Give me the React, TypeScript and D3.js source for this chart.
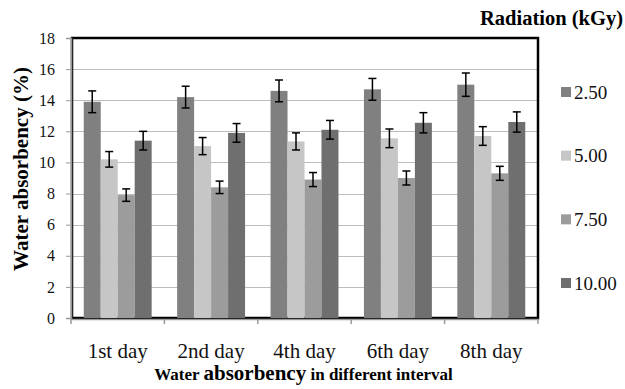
import React, { useRef, useEffect } from 'react';
import * as d3 from 'd3';

const days = ['1st day', '2nd day', '4th day', '6th day', '8th day'];
const doses = ['2.50', '5.00', '7.50', '10.00'];
const colors = ['#808080', '#c6c6c6', '#9c9c9c', '#6f6f6f'];

// absorbency (%) per dose, one value per day
const dose250 = [13.9, 14.2, 14.6, 14.7, 15.0];
const dose500 = [10.2, 11.05, 11.35, 11.55, 11.7];
const dose750 = [7.9, 8.4, 8.9, 9.0, 9.3];
const dose1000 = [11.4, 11.9, 12.1, 12.55, 12.6];

const err250 = [0.7, 0.7, 0.7, 0.7, 0.75];
const err500 = [0.5, 0.55, 0.55, 0.6, 0.6];
const err750 = [0.4, 0.4, 0.45, 0.45, 0.45];
const err1000 = [0.6, 0.6, 0.6, 0.65, 0.65];

const yTicks = [0, 2, 4, 6, 8, 10, 12, 14, 16, 18];

const font = "'Liberation Serif', 'Times New Roman', serif";

function App() {
    const ref = useRef<SVGSVGElement>(null);

    useEffect(() => {
        const svg = d3.select(ref.current);
        svg.selectAll('*').remove();

        const left = 71, right = 538, top = 38, bottom = 318;
        const series = [dose250, dose500, dose750, dose1000];
        const errs = [err250, err500, err750, err1000];

        const y = d3.scaleLinear().domain([0, 18]).range([bottom, top]);
        const x0 = d3.scaleBand().domain(days).range([left, right]).padding(0);
        const x1 = d3.scaleBand().domain(doses).range([0, x0.bandwidth()])
            .paddingInner(0).paddingOuter(0.75);

        // gridlines
        svg.append('g')
            .selectAll('line')
            .data(yTicks.slice(1))
            .join('line')
            .attr('x1', left).attr('x2', right)
            .attr('y1', d => Math.round(y(d)) + 0.5).attr('y2', d => Math.round(y(d)) + 0.5)
            .attr('stroke', '#bdbdbd').attr('stroke-width', 1);

        // plot border
        svg.append('rect')
            .attr('x', left + 1).attr('y', top)
            .attr('width', right - left - 1).attr('height', bottom - top)
            .attr('fill', 'none').attr('stroke', '#000').attr('stroke-width', 2.5);

        // bars
        const groups = svg.append('g')
            .selectAll('g')
            .data(days)
            .join('g')
            .attr('transform', d => `translate(${x0(d)},0)`);

        groups.selectAll('rect')
            .data((d, i) => doses.map((s, j) => ({ s, j, v: series[j][i], e: errs[j][i] })))
            .join('rect')
            .attr('x', d => x1(d.s)!)
            .attr('width', x1.bandwidth())
            .attr('y', d => y(d.v))
            .attr('height', d => bottom - y(d.v))
            .attr('fill', d => colors[d.j]);

        // error bars
        const eb = groups.selectAll('g.err')
            .data((d, i) => doses.map((s, j) => ({ s, v: series[j][i], e: errs[j][i] })))
            .join('g')
            .attr('class', 'err')
            .attr('transform', d => `translate(${x1(d.s)! + x1.bandwidth() / 2},0)`)
            .attr('stroke', '#000').attr('stroke-width', 1.5);
        eb.append('line').attr('x1', 0).attr('x2', 0)
            .attr('y1', d => y(d.v + d.e)).attr('y2', d => y(d.v - d.e));
        eb.append('line').attr('x1', -4).attr('x2', 4)
            .attr('y1', d => y(d.v + d.e)).attr('y2', d => y(d.v + d.e));
        eb.append('line').attr('x1', -4).attr('x2', 4)
            .attr('y1', d => y(d.v - d.e)).attr('y2', d => y(d.v - d.e));

        // y axis
        const yAxis = svg.append('g')
            .attr('transform', `translate(${left},0)`)
            .call(d3.axisLeft(y).tickValues(yTicks).tickSize(5).tickPadding(11));
        yAxis.attr('font-family', null).attr('font-size', null);
        yAxis.select('.domain').attr('stroke', '#999').attr('stroke-width', 1.5);
        yAxis.selectAll('.tick line').attr('stroke', '#999');
        yAxis.selectAll('.tick text')
            .style('font-family', font).style('font-size', '16px').attr('fill', '#111');

        // x axis
        const xAxis = svg.append('g')
            .attr('transform', `translate(0,${bottom + 1})`)
            .call(d3.axisBottom(x0).tickSize(0).tickPadding(24));
        xAxis.attr('font-family', null).attr('font-size', null);
        xAxis.select('.domain').attr('stroke', '#999').attr('stroke-width', 1.5);
        xAxis.selectAll('.tick text')
            .style('font-family', font).style('font-size', '21px').attr('fill', '#111');
        xAxis.selectAll('line.sep')
            .data([...days.map(d => x0(d)!), right])
            .join('line')
            .attr('class', 'sep')
            .attr('x1', d => d).attr('x2', d => d)
            .attr('y1', 0).attr('y2', 5)
            .attr('stroke', '#999').attr('stroke-width', 1.5);

        // axis titles
        svg.append('text')
            .attr('transform', `translate(28,${(63 + 275) / 2}) rotate(-90)`)
            .attr('text-anchor', 'middle')
            .style('font-family', font).style('font-weight', 'bold').style('font-size', '21px')
            .text('Water absorbency (%)');

        const xt = svg.append('text')
            .attr('x', (left + right) / 2 - 1).attr('y', 380)
            .attr('text-anchor', 'middle')
            .style('font-family', font).style('font-weight', 'bold').style('font-size', '17px');
        xt.append('tspan').text('Water ');
        xt.append('tspan').style('font-size', '21px').text('absorbency');
        xt.append('tspan').text(' in different interval');

        // legend
        svg.append('text')
            .attr('x', 623).attr('y', 25)
            .attr('text-anchor', 'end')
            .style('font-family', font).style('font-weight', 'bold').style('font-size', '20.5px')
            .text('Radiation (kGy)');

        const legY = d3.scalePoint().domain(doses).range([92, 283]);
        const leg = svg.append('g')
            .selectAll('g')
            .data(doses)
            .join('g')
            .attr('transform', d => `translate(561,${legY(d)})`);
        leg.append('rect')
            .attr('x', 0).attr('y', -5).attr('width', 10).attr('height', 10)
            .attr('fill', (d, i) => colors[i]);
        leg.append('text')
            .attr('x', 13).attr('y', 6.5)
            .style('font-family', font).style('font-size', '19px').attr('fill', '#111')
            .text(d => d);
    }, []);

    return (
        <div>
            <svg ref={ref} width={625} height={389}
                style={{ position: 'absolute', left: 0, top: 0, background: '#fff', fontFamily: font }}></svg>
        </div>
    );
}

export default App;
